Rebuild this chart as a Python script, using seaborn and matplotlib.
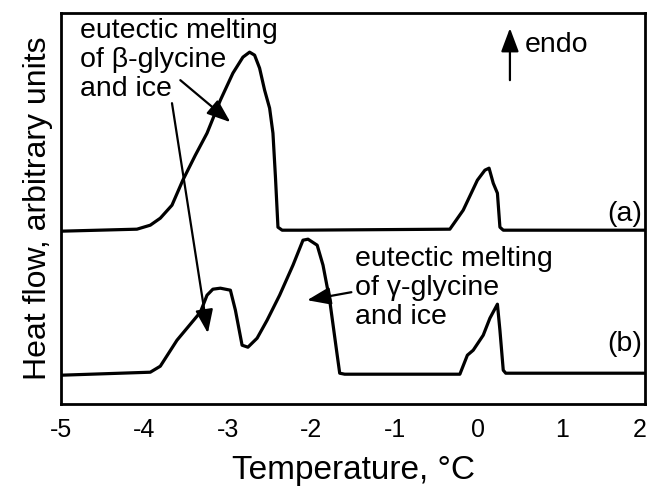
import numpy as np
import pandas as pd
import matplotlib
matplotlib.use("Agg")
import matplotlib.pyplot as plt
import matplotlib.transforms as mtransforms
import seaborn as sns

# Curve (a): beta-glycine
temp_a = [-5.00, -4.09, -3.93, -3.81, -3.67, -3.54, -3.39, -3.25, -3.09, -2.94,
          -2.82, -2.74, -2.68, -2.62, -2.56, -2.50, -2.46, -2.43, -2.40, -2.35, -2.14,
          -0.34, -0.18, -0.01, 0.08, 0.13, 0.18, 0.23, 0.26, 0.30, 2.00]
heat_a = [1.73, 1.75, 1.79, 1.86, 1.99, 2.24, 2.49, 2.71, 3.04, 3.31,
          3.47, 3.52, 3.49, 3.36, 3.14, 2.96, 2.71, 2.27, 1.77, 1.74, 1.74,
          1.75, 1.94, 2.24, 2.34, 2.36, 2.21, 2.11, 1.77, 1.74, 1.74]

# Curve (b): gamma-glycine
temp_b = [-5.00, -3.93, -3.81, -3.61, -3.33, -3.25, -3.18, -3.09, -2.97, -2.91,
          -2.83, -2.76, -2.65, -2.53, -2.38, -2.22, -2.10, -2.04, -1.93, -1.86,
          -1.78, -1.69, -1.66, -1.60, -0.22, -0.13, -0.06, 0.06, 0.14, 0.23,
          0.26, 0.30, 0.33, 2.00]
heat_b = [0.29, 0.32, 0.38, 0.64, 0.92, 1.09, 1.15, 1.16, 1.14, 0.94,
          0.59, 0.57, 0.66, 0.84, 1.09, 1.39, 1.64, 1.65, 1.59, 1.39,
          1.04, 0.49, 0.31, 0.30, 0.30, 0.49, 0.54, 0.69, 0.86, 1.00,
          0.74, 0.34, 0.31, 0.31]

x_ticks = [-5, -4, -3, -2, -1, 0, 1, 2]

df = pd.concat([
    pd.DataFrame({"T": temp_a, "H": heat_a, "curve": "a"}),
    pd.DataFrame({"T": temp_b, "H": heat_b, "curve": "b"}),
])

sns.set_theme(style="white")
plt.rcParams["font.family"] = ["Liberation Sans", "DejaVu Sans"]

fig = plt.figure(figsize=(6.49, 4.87), dpi=100)
ax = fig.add_axes([0.094, 0.170, 0.900, 0.803])

sns.lineplot(data=df, x="T", y="H", units="curve", estimator=None, sort=False,
             color="black", linewidth=2.3, ax=ax, legend=False)

ax.set_xlim(-5, 2)
ax.set_ylim(0, 3.91)
ax.set_xticks(x_ticks)
ax.set_xticklabels([str(t) for t in x_ticks])
ax.set_yticks([])
ax.tick_params(axis="x", direction="in", length=5, width=1.2, labelsize=18,
               pad=10, colors="black")
lbl = ax.get_xticklabels()[-1]
lbl.set_transform(lbl.get_transform() +
                  mtransforms.ScaledTranslation(-5 / 100, 0, fig.dpi_scale_trans))
for s in ax.spines.values():
    s.set_color("black")
    s.set_linewidth(2)

ax.set_xlabel("Temperature, °C", fontsize=24, labelpad=9, color="black")
ax.set_ylabel("Heat flow, arbitrary units", fontsize=23, labelpad=6, color="black")

fs = 20.5
ax.text(-4.77, 3.86, "eutectic melting\nof β-glycine\nand ice", fontsize=fs,
        va="top", ha="left", linespacing=1.15, color="black")
ax.text(-1.48, 1.58, "eutectic melting\nof γ-glycine\nand ice", fontsize=fs,
        va="top", ha="left", linespacing=1.15, color="black")
ax.text(1.96, 1.90, "(a)", fontsize=fs, ha="right", va="center", color="black")
ax.text(1.96, 0.60, "(b)", fontsize=fs, ha="right", va="center", color="black")
ax.text(0.56, 3.59, "endo", fontsize=fs, ha="left", va="center", color="black")

arrow_kw = dict(arrowstyle="-|>,head_length=1.2,head_width=0.45", color="black",
                lw=1.6, shrinkA=0, shrinkB=0)
ax.annotate("", xy=(-3.24, 0.71), xytext=(-3.67, 3.01), arrowprops=arrow_kw)
ax.annotate("", xy=(-2.97, 2.82), xytext=(-3.57, 3.24), arrowprops=arrow_kw)
ax.annotate("", xy=(-2.05, 1.04), xytext=(-1.52, 1.12), arrowprops=arrow_kw)
ax.annotate("", xy=(0.38, 3.76), xytext=(0.38, 3.24), arrowprops=arrow_kw)

fig.savefig("out.png", dpi=100)
